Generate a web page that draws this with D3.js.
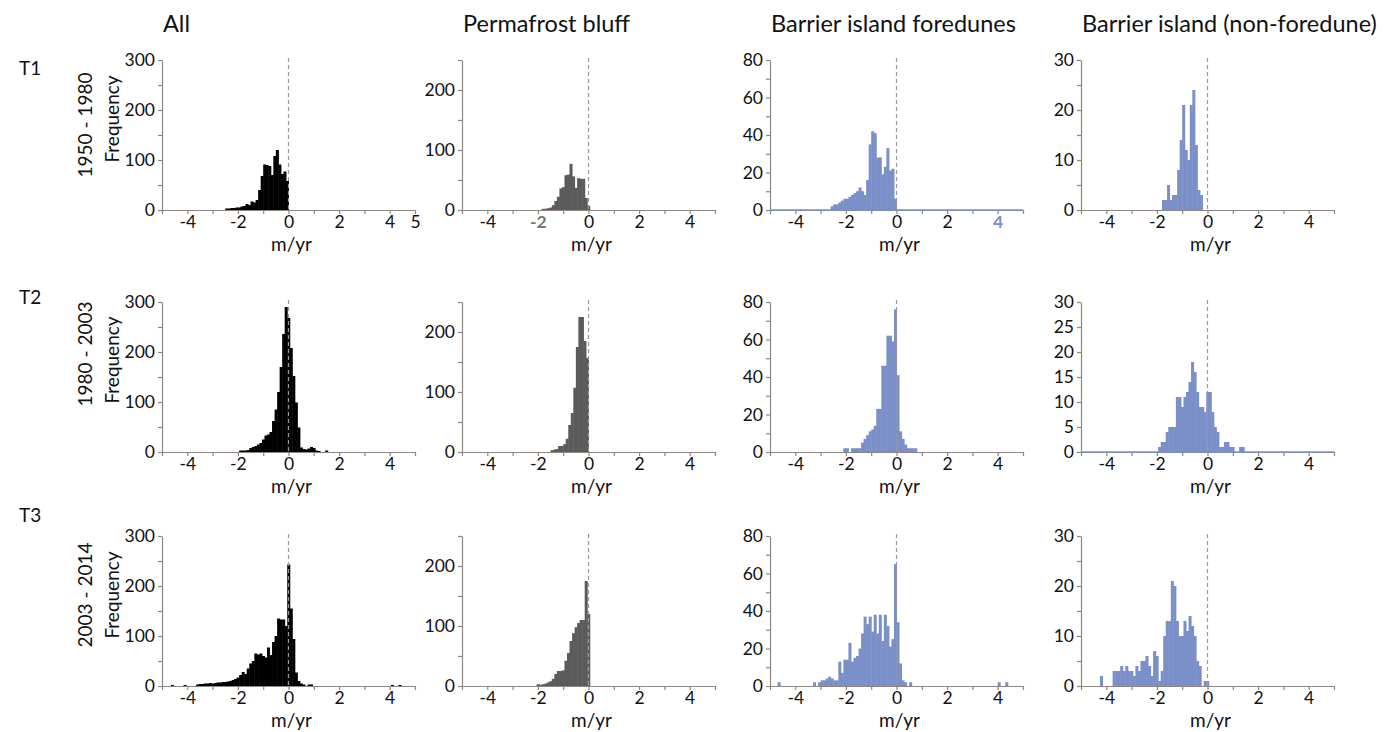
<!DOCTYPE html>
<html>
<head>
<meta charset="utf-8">
<script src="https://cdn.jsdelivr.net/npm/d3@7"></script>
<style>
body { margin: 0; background: #fff; }
text { font-family: Lato, "Open Sans", sans-serif; }
</style>
</head>
<body>
<svg id="chart" width="1391" height="732"></svg>
<script>
var columnTitles = ['All', 'Permafrost bluff', 'Barrier island foredunes', 'Barrier island (non-foredune)'];
var rowNames = ['T1', 'T2', 'T3'];
var periods = ['1950 - 1980', '1980 - 2003', '2003 - 2014'];
var xTickLabels = [-4, -2, 0, 2, 4];
var yMax = [300, 250, 80, 30];
var yTickStep = [50, 50, 10, 5];
var yLabelStep = [100, 100, 20, 10];
var binWidth = 0.1;

// each histogram: left edge of first bin + counts per 0.1 m/yr bin
var allT1Start = -2.5;
var allT1 = [3, 3, 4, 4, 5, 5, 7, 8, 12, 10, 17, 15, 20, 40, 68, 91, 90, 88, 70, 108, 120, 91, 72, 77, 58];
var permT1Start = -1.85;
var permT1 = [2, 2, 3, 4, 8, 15, 22, 36, 38, 58, 59, 77, 56, 37, 53, 52, 52, 20, 7];
var foreT1Start = -2.6;
var foreT1 = [2, 3, 3, 4, 5, 6, 6, 7, 8, 9, 10, 12, 10, 8, 16, 35, 42, 41, 28, 28, 19, 23, 33, 21, 22, 6];
var nonT1Start = -1.8;
var nonT1 = [2, 2, 5, 2, 3, 3, 8, 14, 21, 12, 10, 21, 24, 13, 4, 3];

var allT2Start = -1.95;
var allT2 = [3, 3, 3, 4, 8, 10, 12, 15, 18, 25, 33, 35, 40, 62, 85, 120, 170, 236, 290, 268, 208, 152, 99, 49, 9, 6, 5, 7, 10, 8, 3, 2, 0, 0, 3];
var permT2Start = -1.5;
var permT2 = [3, 4, 5, 10, 10, 13, 22, 45, 65, 107, 175, 225, 225, 185, 157];
var foreT2Start = -2.1;
var foreT2 = [2, 2, 0, 2, 2, 2, 2, 5, 7, 9, 11, 12, 14, 23, 23, 46, 46, 62, 62, 59, 76, 41, 11, 7, 4, 2, 2, 2, 2];
var nonT2Start = -1.95;
var nonT2 = [1, 2, 2, 4, 5, 5, 5, 11, 11, 9, 11, 12, 14, 18, 16, 12, 9, 9, 8, 12, 12, 8, 5, 4, 1, 1, 2, 2, 1, 1, 0, 0, 1, 1];

var allT3Start = -3.65;
var allT3 = [3, 4, 4, 5, 5, 6, 5, 6, 7, 7, 8, 8, 9, 10, 12, 14, 17, 22, 28, 24, 35, 45, 50, 65, 63, 65, 60, 57, 77, 62, 88, 100, 135, 133, 133, 120, 243, 155, 94, 27, 10, 5, 3, 0, 3, 3];
var allT3Extra = [[-4.65, 2], [-4.15, 2], [4.05, 2], [4.35, 2]];
var permT3Start = -2.05;
var permT3 = [3, 2, 3, 4, 6, 8, 12, 20, 25, 25, 26, 42, 55, 75, 88, 98, 105, 110, 110, 175, 120];
var foreT3Start = -3.3;
var foreT3 = [2, 0, 2, 3, 3, 4, 5, 4, 3, 3, 13, 7, 14, 14, 23, 13, 15, 16, 20, 28, 37, 33, 37, 29, 38, 28, 38, 24, 38, 32, 21, 25, 65, 34, 12, 3, 2, 0, 2];
var foreT3Extra = [[-4.7, 2], [4.0, 2], [4.3, 2]];
var nonT3Start = -4.25;
var nonT3 = [2, 0, 0, 0, 0, 3, 3, 3, 4, 3, 4, 3, 3, 2, 4, 3, 5, 5, 6, 4, 2, 7, 6, 1, 3, 10, 13, 13, 21, 20, 13, 10, 10, 13, 11, 14, 12, 10, 5, 4, 0, 1, 1];

var panels = [
    {row: 0, col: 0, start: allT1Start, counts: allT1, extra: [], xLabels: xTickLabels.concat([5])},
    {row: 0, col: 1, start: permT1Start, counts: permT1, extra: [], mark: {value: -2, color: '#777'}},
    {row: 0, col: 2, start: foreT1Start, counts: foreT1, extra: [], blueBase: true, mark: {value: 4, color: '#7b8fc8'}},
    {row: 0, col: 3, start: nonT1Start, counts: nonT1, extra: []},
    {row: 1, col: 0, start: allT2Start, counts: allT2, extra: []},
    {row: 1, col: 1, start: permT2Start, counts: permT2, extra: []},
    {row: 1, col: 2, start: foreT2Start, counts: foreT2, extra: []},
    {row: 1, col: 3, start: nonT2Start, counts: nonT2, extra: [], blueBase: true, yLabelStep: 5},
    {row: 2, col: 0, start: allT3Start, counts: allT3, extra: allT3Extra},
    {row: 2, col: 1, start: permT3Start, counts: permT3, extra: []},
    {row: 2, col: 2, start: foreT3Start, counts: foreT3, extra: foreT3Extra},
    {row: 2, col: 3, start: nonT3Start, counts: nonT3, extra: []}
];

var colLeft = [162, 462, 770, 1081];
var rowTop = [60, 302, 536];
var plotW = 253, plotH = 150;
var barColors = ['#000000', '#5b5b5b', '#7b8fc8', '#7b8fc8'];
var axisColor = '#8c8782';

var svg = d3.select('#chart');

// column titles
svg.selectAll('.col-title')
    .data(columnTitles)
    .enter()
    .append('text')
    .attr('x', function (d, i) { return colLeft[i] + 1; })
    .attr('y', 32)
    .attr('font-size', 23.5)
    .attr('fill', '#111')
    .text(function (d) { return d; });

// row names and y titles
var rowNameY = [75, 304, 522];
var periodY = [125, 354, 595];
var freqY = [119, 360, 595];
rowNames.forEach(function (name, r) {
    svg.append('text')
        .attr('x', 19)
        .attr('y', rowNameY[r])
        .attr('font-size', 19)
        .attr('fill', '#111')
        .text(name);
    svg.append('text')
        .attr('transform', 'translate(92,' + periodY[r] + ') rotate(-90)')
        .attr('text-anchor', 'middle')
        .attr('font-size', 19)
        .attr('fill', '#111')
        .text(periods[r]);
    svg.append('text')
        .attr('transform', 'translate(119,' + freqY[r] + ') rotate(-90)')
        .attr('text-anchor', 'middle')
        .attr('font-size', 19)
        .attr('fill', '#111')
        .text('Frequency');
});

var drawPanel = function (p) {
    var left = colLeft[p.col];
    var top = rowTop[p.row];
    var x = d3.scaleLinear().domain([-5, 5]).range([left, left + plotW]);
    var y = d3.scaleLinear().domain([0, yMax[p.col]]).range([top + plotH, top]);
    var g = svg.append('g');
    var color = barColors[p.col];

    var bins = p.counts.map(function (c, i) {
        return {x0: p.start + i * binWidth, count: c};
    }).concat(p.extra.map(function (e) {
        return {x0: e[0], count: e[1]};
    })).filter(function (b) { return b.count > 0; });

    g.selectAll('rect')
        .data(bins)
        .enter()
        .append('rect')
        .attr('x', function (d) { return x(d.x0); })
        .attr('width', function (d) { return x(d.x0 + binWidth) - x(d.x0) + 0.5; })
        .attr('y', function (d) { return y(d.count); })
        .attr('height', function (d) { return y(0) - y(d.count); })
        .attr('fill', color);

    var labels = p.xLabels || xTickLabels;
    var xAxis = d3.axisBottom(x)
        .tickValues(d3.range(-5, 6))
        .tickSize(4)
        .tickSizeOuter(0)
        .tickPadding(2)
        .tickFormat(function (d) { return labels.indexOf(d) >= 0 ? String(d) : ''; });
    var gx = g.append('g')
        .attr('transform', 'translate(0,' + y(0) + ')')
        .call(xAxis);

    var labStep = p.yLabelStep || yLabelStep[p.col];
    var yAxis = d3.axisLeft(y)
        .tickValues(d3.range(0, yMax[p.col] + 1, yTickStep[p.col]))
        .tickSize(4)
        .tickSizeOuter(0)
        .tickPadding(3)
        .tickFormat(function (d) { return d % labStep === 0 ? String(d) : ''; });
    var gy = g.append('g')
        .attr('transform', 'translate(' + left + ',0)')
        .call(yAxis);

    [gx, gy].forEach(function (a) {
        a.select('.domain').attr('stroke', axisColor).attr('stroke-width', 1.2);
        a.selectAll('.tick line').attr('stroke', axisColor).attr('stroke-width', 1.2);
        a.selectAll('.tick text')
            .attr('fill', '#111')
            .attr('font-size', 17.5)
            .attr('font-family', 'Lato, "Open Sans", sans-serif');
    });

    if (p.mark) {
        gx.selectAll('.tick')
            .filter(function (d) { return d === p.mark.value; })
            .select('text')
            .attr('fill', p.mark.color)
            .attr('font-weight', 'bold');
    }

    if (p.blueBase) {
        g.append('line')
            .attr('x1', x(-5)).attr('x2', x(5))
            .attr('y1', y(0)).attr('y2', y(0))
            .attr('stroke', color)
            .attr('stroke-width', 1.5);
    }

    // zero reference line
    g.append('line')
        .attr('x1', x(0)).attr('x2', x(0))
        .attr('y1', top - 2).attr('y2', y(0))
        .attr('stroke', '#999')
        .attr('stroke-width', 1.2)
        .attr('stroke-dasharray', '4,3');

    g.append('text')
        .attr('x', x(0) + 3)
        .attr('y', y(0) + 41)
        .attr('text-anchor', 'middle')
        .attr('font-size', 19)
        .attr('fill', '#111')
        .text('m/yr');
};

panels.forEach(drawPanel);
</script>
</body>
</html>
